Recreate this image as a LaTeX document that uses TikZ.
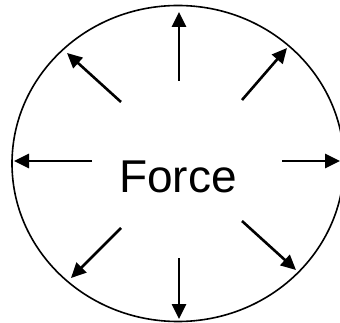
\documentclass[tikz,border=0pt]{standalone}
\usepackage{fontspec}
\setmainfont{Liberation Sans}
\usetikzlibrary{arrows.meta}

\begin{document}
\begin{tikzpicture}[x=1pt,y=-1pt,
		push/.style={line width=2.6pt,-{Triangle[length=15pt,width=14pt]}}]
	\useasboundingbox (0,0) rectangle (340,323);
	\draw[line width=1.6pt] (178,163.5) ellipse [x radius=166, y radius=158];
	\node[anchor=base,font=\fontsize{46}{50}\selectfont] (force) at (178,193) {Force};
	\foreach \n/\xa/\ya/\xb/\yb in {%
		n/179/81/179/12, s/179/258/179/319,%
		w/92/161/14/161, e/282/161/340/161,%
		nw/121/102/67/53, ne/242/100/287/48,%
		sw/121/228/71/278, se/242/221/296/270%
	}{
		\coordinate (\n0) at (\xa,\ya);
		\coordinate (\n1) at (\xb,\yb);
		\draw[push] (\n0) -- (\n1);
	}
\end{tikzpicture}
\end{document}
